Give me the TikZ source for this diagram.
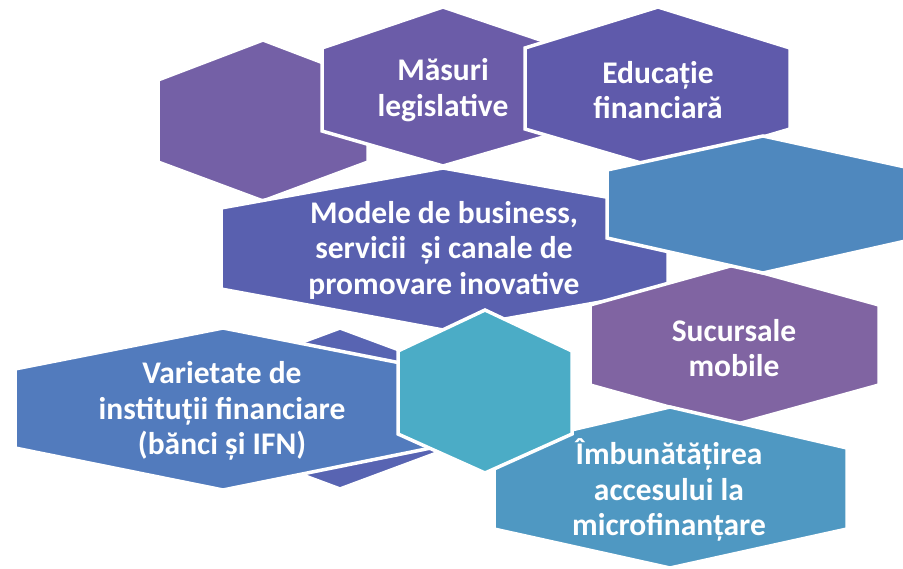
\documentclass[tikz,border=0pt]{standalone}
\usepackage{fontspec}
\setmainfont{Carlito}
\usepackage{tikz}
\usepackage{xcolor}
\definecolor{plumback}{HTML}{7460A6}
\definecolor{plumtop}{HTML}{6B5CA8}
\definecolor{indigotop}{HTML}{5F5AAB}
\definecolor{indigomid}{HTML}{5960AF}
\definecolor{indigolow}{HTML}{5864B2}
\definecolor{bluelow}{HTML}{527BBD}
\definecolor{blueright}{HTML}{4F88BE}
\definecolor{plumright}{HTML}{8064A2}
\definecolor{bluedeep}{HTML}{4F98C2}
\definecolor{aquacore}{HTML}{4BACC6}
\tikzset{
    hexcell/.style={draw=white, line width=3.5pt, line join=miter},
    hexlabel/.style={text=white, font=\bfseries\fontsize{31.5}{35.5}\selectfont, align=center}
}

\begin{document}
\begin{tikzpicture}[x=1pt, y=-1pt]
    \clip (0,0) rectangle (903,569);
    % hexagons, from back to front
    \draw[hexcell, fill=plumback] (263,40) -- (368,80) -- (368,162) -- (263,201) -- (158,162) -- (158,80) -- cycle;
    \draw[hexcell, fill=plumtop] (443,7) -- (564,48) -- (564,131) -- (443,166) -- (322,131) -- (322,48) -- cycle;
    \draw[hexcell, fill=indigotop] (658,7) -- (790,48) -- (790,129) -- (658,168) -- (525,129) -- (525,48) -- cycle;
    \draw[hexcell, fill=indigomid] (443,168) -- (668,208) -- (668,290) -- (443,330) -- (221,289) -- (221,208) -- cycle;
    \draw[hexcell, fill=indigolow] (340,328) -- (445,367) -- (445,450) -- (340,489) -- (235,450) -- (235,367) -- cycle;
    \draw[hexcell, fill=bluelow] (223,328) -- (431,369) -- (431,448) -- (223,490) -- (15,448) -- (15,369) -- cycle;
    \draw[hexcell, fill=plumright] (734,265) -- (879,305) -- (879,385) -- (734,425) -- (590,385) -- (590,305) -- cycle;
    \draw[hexcell, fill=blueright] (763,136) -- (919,170) -- (919,238) -- (763,273) -- (607,238) -- (607,170) -- cycle;
    \draw[hexcell, fill=bluedeep] (670,407) -- (847,448) -- (847,529) -- (670,568) -- (494,529) -- (494,448) -- cycle;
    \draw[hexcell, fill=aquacore] (485,310) -- (572,351) -- (572,434) -- (485,473) -- (398,434) -- (398,351) -- cycle;
    % labels
    \node[hexlabel] (masuri) at (443,90) {Măsuri\\legislative};
    \node[hexlabel] (educatie) at (658,90) {Educație\\financiară};
    \node[hexlabel] (modele) at (444,250) {Modele de business,\\servicii\ \ și canale de\\promovare inovative};
    \node[hexlabel] (varietate) at (222,411) {Varietate de\\instituții financiare\\(bănci și IFN)};
    \node[hexlabel] (sucursale) at (734,348) {Sucursale\\mobile};
    \node[hexlabel] (acces) at (669,490) {Îmbunătățirea\\accesului la\\microfinanțare};
\end{tikzpicture}
\end{document}
